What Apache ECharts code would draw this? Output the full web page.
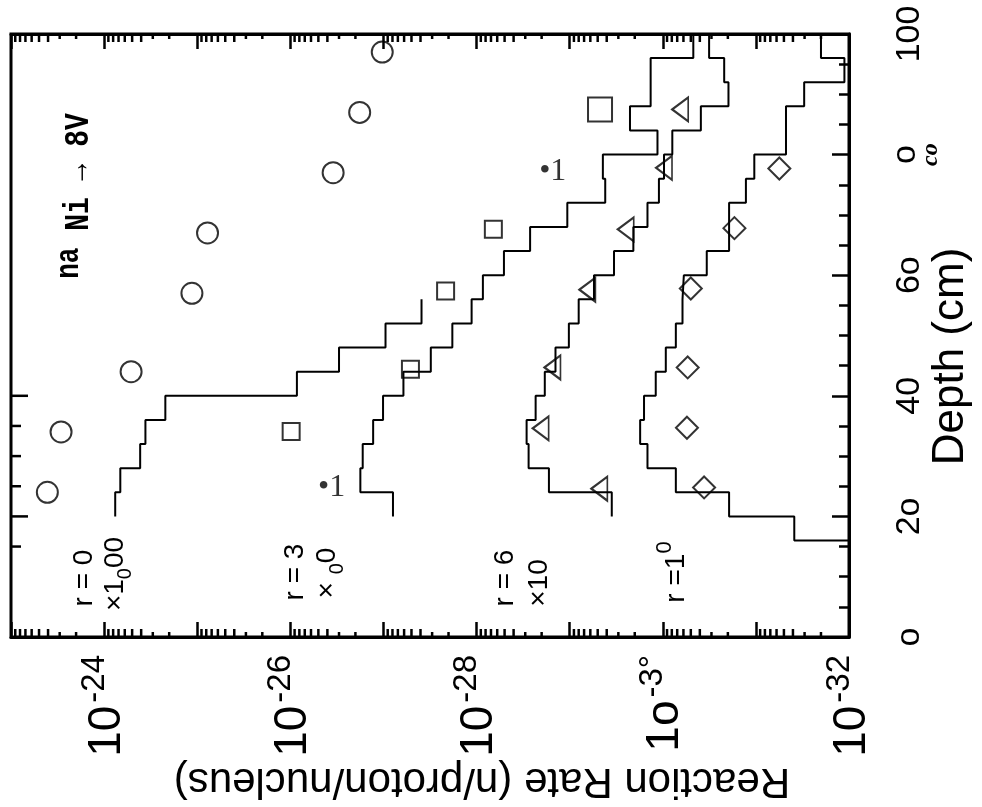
<!DOCTYPE html>
<html>
<head>
<meta charset="utf-8">
<script src="https://cdn.jsdelivr.net/npm/echarts@6/dist/echarts.min.js"></script>
<style>
  html, body { margin: 0; padding: 0; background: #fff; }
  #chart { width: 982px; height: 807px; }
</style>
</head>
<body>
<div id="chart"></div>
<script>
// ---- Depth axis ticks (cm) ----
const depthTicks = [0, 20, 40, 60, 80, 100];
const depthTickText = ['o', '2o', '40', '6o', 'o|co', '100'];

// ---- Reaction-rate axis labels (decades that carry a label) ----
const rateTickExp = [-24, -26, -28, -30, -32];
const rateTickBase = ['10', '10', '10', '1o', '10'];
const rateTickSup = ['-24', '-26', '-28', '-3°', '-32'];

// ---- Calculated histograms: depth bin edges (cm) and rate per bin ----
const edgesR0 = [20, 24, 28, 32, 36, 40, 44, 48, 52, 56];
const rateR0 = [7.6e-25, 6.7e-25, 4.1e-25, 3.6e-25, 2.2e-25, 8.5e-27, 3.0e-27, 9.5e-28, 3.9e-28];

const edgesR3 = [20, 24, 28, 32, 36, 40, 44, 48, 52, 56, 60, 64, 68, 72, 76, 80, 84, 88, 92, 96, 100];
const rateR3 = [7.9e-28, 1.77e-27, 1.67e-27, 1.29e-27, 1.01e-27, 6.1e-28, 3.1e-28, 1.82e-28, 1.13e-28, 8.55e-29,
                5.08e-29, 2.66e-29, 1.06e-29, 4.15e-30, 4.4e-30, 1.14e-30, 2.25e-30, 1.35e-30, 1.35e-30, 4.7e-31];

const edgesR6 = [20, 24, 28, 32, 36, 40, 44, 48, 52, 56, 60, 64, 68, 72, 76, 80, 84, 88, 92, 96, 100];
const rateR6 = [3.53e-30, 1.67e-29, 2.76e-29, 2.9e-29, 2.32e-29, 1.85e-29, 1.42e-29, 1.02e-29, 8.0e-30, 5.48e-30,
                3.34e-30, 2.07e-30, 1.46e-30, 1.10e-30, 9.7e-31, 7.9e-31, 3.9e-31, 1.97e-31, 2.19e-31, 3.18e-31];

const edgesR10 = [12, 16, 20, 24, 28, 32, 36, 40, 44, 48, 52, 56, 60, 64, 68, 72, 76, 80, 84, 88, 92, 96, 100];
const rateR10 = [5e-33, 3.87e-32, 1.94e-31, 7.24e-31, 1.46e-30, 1.75e-30, 1.59e-30, 1.19e-30, 9.28e-31, 7.24e-31,
                 6.14e-31, 5.94e-31, 3.37e-31, 1.94e-31, 1.94e-31, 1.28e-31, 1.04e-31, 4.75e-32, 4.75e-32, 3.03e-32,
                 1.12e-32, 2.0e-32];

// ---- Measured rates: depth (cm) and rate ----
const circleDepth = [24, 34, 44, 57, 67, 77, 87, 97];
const circleRate = [4.07e-24, 2.9e-24, 5.13e-25, 1.14e-25, 7.75e-26, 3.47e-27, 1.80e-27, 1.03e-27];

const squareDepth = [34.1, 44.4, 57.4, 67.6, 87.5];
const squareRate = [9.8e-27, 5.13e-28, 2.15e-28, 6.6e-29, 4.72e-30];

const dotDepth = [24.7, 77.2];
const dotRate = [3.6e-27, 1.52e-29];

const triangleDepth = [24.6, 34.6, 44.7, 57.6, 67.6, 77.8, 87.5];
const triangleRate = [4.8e-30, 2.05e-29, 1.53e-29, 6.45e-30, 2.5e-30, 9.7e-31, 6.5e-31];

const diamondDepth = [24.8, 34.7, 44.7, 57.8, 67.8, 77.7];
const diamondRate = [3.6e-31, 5.5e-31, 5.4e-31, 5.0e-31, 1.7e-31, 5.6e-32];

// ticks drawn along the left frame edge (cm)
const leftTickDepths = [15, 20, 25, 30, 35, 40];

// ---------------------------------------------------------------
// Rates are tiny; the log axis works on rate × 1e32 so that its
// rounding stays exact, and labels print the true exponent.
const EXP_SHIFT = 32;
const SCALE = Math.pow(10, EXP_SHIFT);
const RATE_MIN = 1e-32, RATE_MAX = 1e-23;
const toAxis = r => r * SCALE;

const SANS = "'Liberation Sans', Arial, sans-serif";
const SERIF = "'Liberation Serif', 'DejaVu Serif', serif";
const MONO = "'Liberation Mono', 'DejaVu Sans Mono', monospace";

function stepPoints(edges, rates) {
  const pts = [];
  rates.forEach((r, i) => { pts.push([toAxis(r), edges[i]]); pts.push([toAxis(r), edges[i + 1]]); });
  return pts;
}
function pairs(rates, depths) { return rates.map((r, i) => [toAxis(r), depths[i]]); }

// minor log ticks at 2..9 of every decade
const minorRateTicks = [];
for (let e = -32; e < -23; e++) for (let m = 2; m <= 9; m++) minorRateTicks.push([m, e]);

const frameLine = { show: true, onZero: false, lineStyle: { color: '#000', width: 3 } };
const hollow = { color: 'rgba(0,0,0,0)', borderColor: '#000', borderWidth: 2 };

function stepSeries(name, edges, rates) {
  return {
    name, type: 'line', data: stepPoints(edges, rates), symbol: 'none', clip: true,
    lineStyle: { color: '#000', width: 2 }, silent: true, z: 3
  };
}

const chart = echarts.init(document.getElementById('chart'));

const rateAxisBase = {
  type: 'log', logBase: 10, min: toAxis(RATE_MIN), max: toAxis(RATE_MAX), inverse: true,
  axisLine: frameLine,
  axisTick: { show: true, inside: true, length: 15, lineStyle: { color: '#000', width: 2.5 } },
  splitLine: { show: false }
};

const option = {
  animation: false,
  backgroundColor: '#fff',
  grid: {
    left: 11, right: 133, top: 34, bottom: 170,
    outerBoundsMode: 'none', containLabel: false,
    show: true, borderColor: '#000', borderWidth: 3
  },
  xAxis: [
    Object.assign({}, rateAxisBase, {
      position: 'bottom',
      axisLabel: {
        rotate: 90, margin: 18, color: '#000', fontFamily: SANS, fontSize: 46,
        formatter: function (v) {
          const e = Math.round(Math.log10(v)) - EXP_SHIFT;
          const k = rateTickExp.indexOf(e);
          if (k < 0) return '';
          return '{b|' + rateTickBase[k] + '}{s|' + rateTickSup[k] + '}';
        },
        rich: {
          b: { fontFamily: SANS, fontSize: 46, color: '#000', verticalAlign: 'bottom', lineHeight: 52, padding: [0, 3, 0, 0] },
          s: { fontFamily: SANS, fontSize: 33, color: '#000', verticalAlign: 'top', lineHeight: 52 }
        }
      },
      name: 'Reaction Rate (n/proton/nucleus)', nameLocation: 'middle', nameGap: 123, nameRotate: 180,
      nameMoveOverlap: false,
      nameTextStyle: { fontFamily: SANS, fontSize: 42, color: '#000', padding: [0, 104, 0, 0] }
    }),
    Object.assign({}, rateAxisBase, { position: 'top', axisLabel: { show: false } })
  ],
  yAxis: [
    {
      type: 'value', min: 0, max: 100, interval: 20, position: 'right',
      axisLine: frameLine,
      axisTick: { show: true, inside: true, length: 17, lineStyle: { color: '#000', width: 2.5 } },
      minorTick: { show: true, splitNumber: 4, length: 10, lineStyle: { color: '#000', width: 2.5 } },
      splitLine: { show: false },
      axisLabel: {
        rotate: 90, margin: 44, color: '#000', fontFamily: SANS, fontSize: 34,
        formatter: function (v) {
          const t = depthTickText[depthTicks.indexOf(Math.round(v))];
          if (t === undefined) return '';
          if (t.indexOf('|') >= 0) {
            const p = t.split('|');
            return '{a|' + p[0] + '}\n{c|' + p[1] + '}';
          }
          return t;
        },
        rich: {
          a: { fontFamily: SANS, fontSize: 34, color: '#000', lineHeight: 26 },
          c: { fontFamily: SERIF, fontStyle: 'italic', fontWeight: 'bold', fontSize: 24, color: '#000', lineHeight: 24 }
        }
      },
      name: 'Depth (cm)', nameLocation: 'middle', nameGap: 80, nameRotate: 90,
      nameMoveOverlap: false,
      nameTextStyle: { fontFamily: SANS, fontSize: 44, color: '#000', padding: [0, 42, 0, 0] }
    }
  ],
  series: [
    stepSeries('r = 0', edgesR0, rateR0),
    stepSeries('r = 3', edgesR3, rateR3),
    stepSeries('r = 6', edgesR6, rateR6),
    stepSeries('r = 10', edgesR10, rateR10),
    {
      name: 'r = 0 measured', type: 'scatter', data: pairs(circleRate, circleDepth),
      symbol: 'circle', symbolSize: 21, itemStyle: hollow, z: 4
    },
    {
      name: 'r = 3 measured', type: 'scatter', data: pairs(squareRate, squareDepth),
      symbol: 'rect', symbolSize: (v, p) => (p.dataIndex === squareRate.length - 1 ? 24 : 17),
      itemStyle: hollow, z: 4
    },
    {
      name: 'r = 3 marks', type: 'scatter', data: pairs(dotRate, dotDepth),
      symbol: 'circle', symbolSize: 1, itemStyle: { color: 'rgba(0,0,0,0)' },
      label: { show: true, position: 'inside', formatter: '•1', fontFamily: SERIF, fontSize: 32, color: '#000' }, z: 4
    },
    {
      name: 'r = 6 measured', type: 'scatter', data: pairs(triangleRate, triangleDepth),
      symbol: 'triangle', symbolSize: [24, 16], symbolRotate: 90, itemStyle: hollow, z: 4
    },
    {
      name: 'r = 10 measured', type: 'scatter', data: pairs(diamondRate, diamondDepth),
      symbol: 'diamond', symbolSize: 22, itemStyle: hollow, z: 4
    },
    {
      // short log-decade subdivisions along the top and bottom frame
      name: 'minor rate ticks', type: 'custom', silent: true, z: 5,
      data: minorRateTicks.map(([m, e]) => [toAxis(m * Math.pow(10, e)), 50, m]),
      renderItem: function (params, api) {
        const v = api.value(0);
        const m = api.value(2);
        const len = m <= 3 ? 5 : 8;
        const b = api.coord([v, 0]);
        const t = api.coord([v, 100]);
        const st = { stroke: '#000', lineWidth: 2.5 };
        return {
          type: 'group', children: [
            { type: 'line', shape: { x1: b[0], y1: b[1], x2: b[0], y2: b[1] - len }, style: st },
            { type: 'line', shape: { x1: t[0], y1: t[1], x2: t[0], y2: t[1] + len }, style: st }
          ]
        };
      }
    },
    {
      // depth ticks along the left frame
      name: 'left depth ticks', type: 'custom', silent: true, z: 5,
      data: leftTickDepths.map(d => [toAxis(RATE_MAX), d]),
      renderItem: function (params, api) {
        const d = api.value(1);
        const p = api.coord([api.value(0), d]);
        const len = d % 20 === 0 ? 17 : 10;
        return { type: 'line', shape: { x1: p[0], y1: p[1], x2: p[0] + len, y2: p[1] }, style: { stroke: '#000', lineWidth: 2.5 } };
      }
    }
  ],
  graphic: [
    { type: 'text', x: 75, y: 196, rotation: Math.PI / 2, scaleY: 1.25, z: 10,
      style: { text: '{n|na}{m| Ni → 8V}', align: 'center', verticalAlign: 'middle', fill: '#000',
        rich: { n: { fontFamily: MONO, fontWeight: 'bold', fontSize: 26, verticalAlign: 'top', lineHeight: 34 },
                m: { fontFamily: MONO, fontWeight: 'bold', fontSize: 28, verticalAlign: 'bottom', lineHeight: 34 } } } },
    { type: 'text', x: 84, y: 578, rotation: Math.PI / 2, z: 10,
      style: { text: 'r = 0', fontFamily: SANS, fontSize: 28, align: 'center', verticalAlign: 'middle', fill: '#000' } },
    { type: 'text', x: 118, y: 574, rotation: Math.PI / 2, z: 10,
      style: { text: '{a|×1}{s|0}{a|00}', align: 'center', verticalAlign: 'middle', fill: '#000',
        rich: { a: { fontFamily: SANS, fontSize: 28, lineHeight: 34, verticalAlign: 'top' },
                s: { fontFamily: SANS, fontSize: 20, lineHeight: 34, verticalAlign: 'bottom' } } } },
    { type: 'text', x: 295, y: 572, rotation: Math.PI / 2, z: 10,
      style: { text: 'r = 3', fontFamily: SANS, fontSize: 28, align: 'center', verticalAlign: 'middle', fill: '#000' } },
    { type: 'text', x: 330, y: 573, rotation: Math.PI / 2, z: 10,
      style: { text: '{a|× }{s|0}{a|0}', align: 'center', verticalAlign: 'middle', fill: '#000',
        rich: { a: { fontFamily: SANS, fontSize: 28, lineHeight: 34, verticalAlign: 'top' },
                s: { fontFamily: SANS, fontSize: 20, lineHeight: 34, verticalAlign: 'bottom' } } } },
    { type: 'text', x: 505, y: 578, rotation: Math.PI / 2, z: 10,
      style: { text: 'r = 6', fontFamily: SANS, fontSize: 28, align: 'center', verticalAlign: 'middle', fill: '#000' } },
    { type: 'text', x: 539, y: 583, rotation: Math.PI / 2, z: 10,
      style: { text: '×10', fontFamily: SANS, fontSize: 28, align: 'center', verticalAlign: 'middle', fill: '#000' } },
    { type: 'text', x: 672, y: 572, rotation: Math.PI / 2, z: 10,
      style: { text: '{a|r =1}{s|0}', align: 'center', verticalAlign: 'middle', fill: '#000',
        rich: { a: { fontFamily: SANS, fontSize: 28, lineHeight: 36, verticalAlign: 'bottom' },
                s: { fontFamily: SANS, fontSize: 22, lineHeight: 36, verticalAlign: 'top' } } } }
  ]
};

chart.setOption(option);
</script>
</body>
</html>
